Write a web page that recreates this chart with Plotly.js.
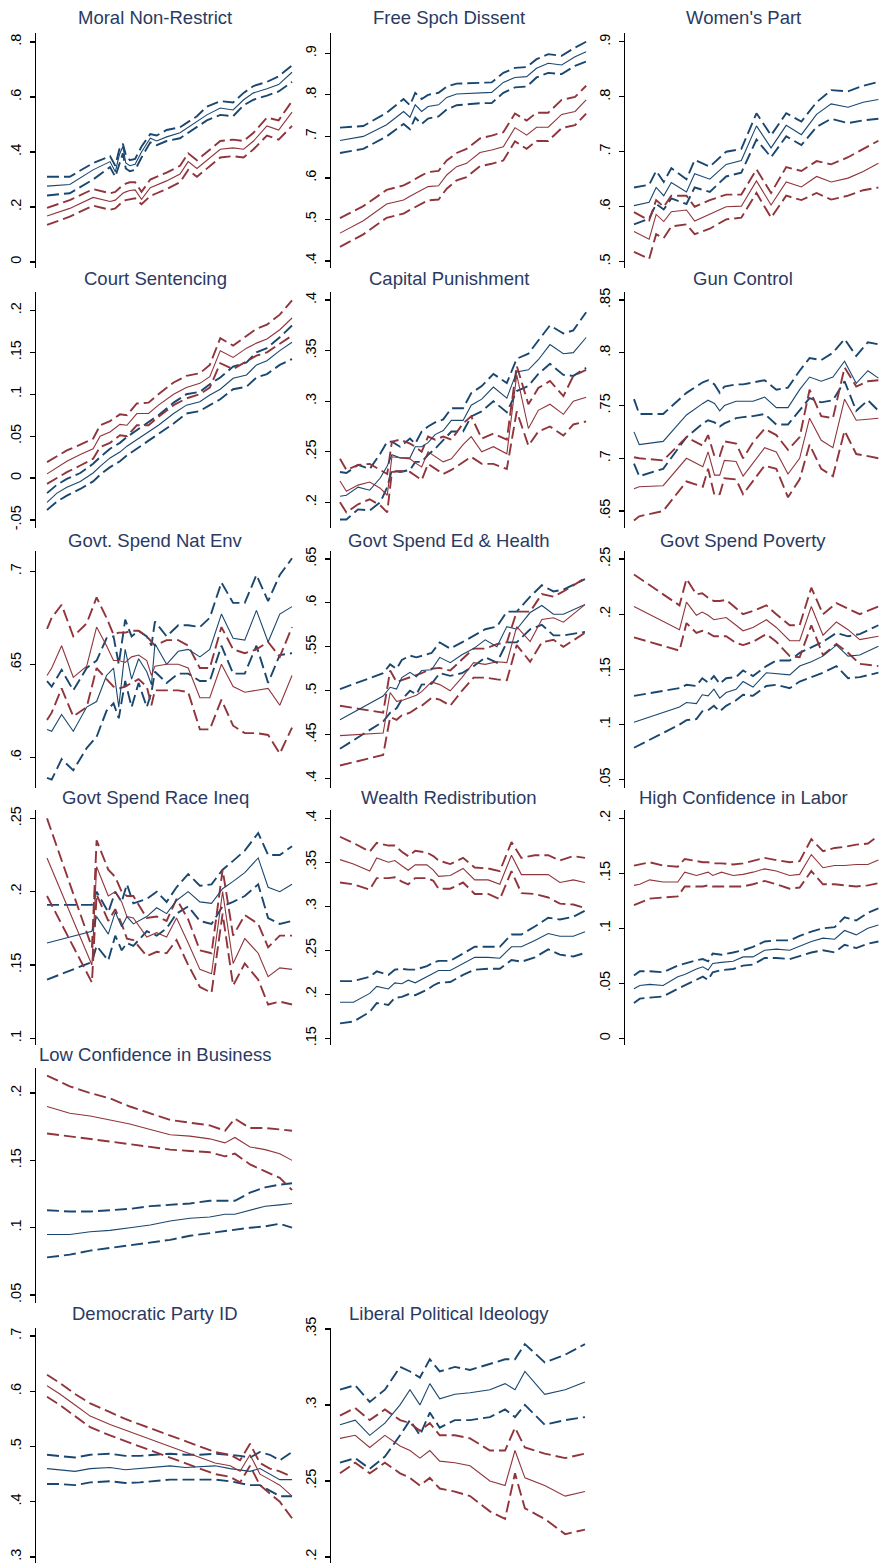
<!DOCTYPE html>
<html><head><meta charset="utf-8">
<script src="https://cdn.plot.ly/plotly-3.0.1.min.js"></script>
<style>html,body{margin:0;padding:0;background:#fff}#g{width:879px;height:1563px}</style>
</head><body><div id="g"></div>
<script>
// ---------- DATA ----------
const titles = ["Moral Non-Restrict","Free Spch Dissent","Women's Part","Court Sentencing","Capital Punishment","Gun Control","Govt. Spend Nat Env","Govt Spend Ed & Health","Govt Spend Poverty","Govt Spend Race Ineq","Wealth Redistribution","High Confidence in Labor","Low Confidence in Business","Democratic Party ID","Liberal Political Ideology"];

const p1_x=[1972,1975.9,1979.9,1982.8,1983.7,1984.4,1985.0,1985.5,1986.2,1987.1,1988.2,1989.7,1990.8,1992.5,1994.8,1996.2,1997.7,1999.4,2001.7,2003.9,2005.7,2007.4,2009.7,2011.7,2014];
const p1_bm=[.276,.282,.335,.365,.328,.39,.42,.36,.35,.355,.40,.45,.44,.455,.47,.49,.51,.535,.56,.553,.59,.615,.63,.645,.69];
const p1_bu=[.31,.31,.36,.385,.35,.41,.43,.39,.37,.375,.42,.465,.46,.48,.49,.51,.53,.565,.585,.58,.615,.64,.655,.675,.715];
const p1_bl=[.242,.25,.30,.345,.31,.36,.395,.34,.33,.335,.38,.435,.425,.44,.45,.47,.49,.515,.535,.53,.57,.59,.605,.62,.655];
const p1_rm=[.167,.195,.235,.22,.225,.24,.25,.255,.26,.262,.228,.27,.28,.295,.32,.365,.34,.37,.41,.415,.41,.44,.495,.48,.545];
const p1_ru=[.197,.225,.265,.25,.255,.27,.28,.285,.29,.29,.255,.30,.31,.325,.35,.395,.37,.40,.44,.445,.44,.47,.525,.515,.585];
const p1_rl=[.135,.165,.205,.19,.195,.21,.22,.225,.228,.232,.21,.24,.25,.265,.29,.335,.31,.34,.38,.385,.38,.41,.46,.445,.495];

const p2_x=[1972,1976,1980,1982.9,1984,1984.9,1986,1987.1,1988.9,1990.3,1992,1993.7,1996,1998,2000,2002,2004,2005.7,2007.7,2010,2012.3,2014.2];
const p2_bm=[.69,.70,.728,.76,.746,.776,.76,.772,.776,.794,.802,.803,.806,.806,.83,.842,.844,.864,.876,.872,.892,.904];
const p2_bu=[.721,.725,.757,.79,.775,.805,.79,.8,.805,.82,.827,.828,.83,.83,.853,.865,.867,.886,.898,.894,.914,.928];
const p2_bl=[.66,.67,.70,.73,.717,.745,.73,.743,.748,.765,.775,.777,.78,.78,.805,.818,.82,.842,.853,.85,.87,.88];
const p2_rm=[.467,.497,.537,.547,.556,.563,.571,.579,.581,.607,.627,.635,.661,.667,.675,.721,.703,.722,.722,.753,.76,.788];
const p2_ru=[.503,.532,.571,.582,.59,.598,.606,.614,.617,.642,.66,.67,.695,.702,.71,.755,.738,.757,.757,.788,.795,.822];
const p2_rl=[.434,.464,.504,.514,.523,.53,.538,.546,.548,.574,.594,.602,.628,.634,.642,.688,.67,.689,.689,.72,.727,.755];

const p3_x=[1972,1974.6,1975.8,1977.1,1978.4,1981,1982.4,1985,1987.8,1990.4,1993,1995.5,1998.1,2000.7,2003.3,2005.8,2008.7,2011.3,2013.9];
const p3_bm=[.602,.608,.635,.62,.644,.627,.66,.65,.677,.684,.747,.707,.748,.731,.768,.787,.781,.79,.795];
const p3_bu=[.635,.64,.665,.645,.67,.65,.685,.673,.70,.705,.77,.73,.77,.755,.79,.812,.81,.82,.827];
const p3_bl=[.568,.578,.605,.595,.615,.605,.635,.627,.655,.662,.722,.69,.728,.712,.745,.76,.752,.757,.76];
const p3_rm=[.555,.541,.586,.573,.591,.594,.574,.587,.60,.601,.647,.603,.645,.636,.655,.645,.652,.664,.679];
const p3_ru=[.59,.575,.612,.60,.62,.62,.60,.612,.622,.622,.668,.625,.672,.665,.683,.677,.69,.705,.72];
const p3_rl=[.518,.505,.55,.543,.564,.568,.55,.56,.577,.58,.625,.58,.62,.612,.625,.613,.62,.63,.635];

const p4_x=[1972,1973.7,1975.4,1977.7,1979.9,1981.1,1982.8,1984.5,1985.7,1987.4,1989.4,1991.1,1993.7,1995.9,1998.2,1999.9,2001.7,2003.9,2006.2,2007.9,2009.7,2011.9,2014];
const p4_bm=[-.029,-.018,-.011,-.004,.006,.014,.024,.031,.038,.046,.056,.063,.077,.087,.091,.099,.106,.119,.123,.135,.14,.152,.162];
const p4_bu=[-.018,-.008,-.001,.006,.017,.025,.035,.042,.049,.057,.067,.075,.09,.1,.103,.112,.12,.133,.138,.15,.155,.168,.182];
const p4_bl=[-.038,-.028,-.021,-.013,-.004,.004,.013,.02,.027,.035,.045,.052,.065,.077,.08,.087,.094,.106,.109,.12,.124,.135,.142];
const p4_rm=[.005,.012,.02,.028,.035,.05,.055,.064,.063,.077,.077,.087,.1,.108,.113,.121,.152,.144,.155,.161,.166,.177,.191];
const p4_ru=[.019,.026,.033,.04,.047,.063,.068,.076,.075,.089,.09,.1,.114,.122,.125,.135,.167,.158,.17,.178,.183,.195,.212];
const p4_rl=[-.007,0,.007,.015,.023,.037,.042,.051,.05,.063,.063,.073,.087,.095,.1,.108,.137,.13,.139,.146,.15,.16,.17];

const p5_x=[1972,1973.1,1975.1,1977.1,1978.9,1980.1,1980.9,1982.3,1984,1984.9,1986,1987.1,1988.3,1989.7,1991.1,1993.1,1994.5,1996.3,1998.3,2000.6,2002.3,2004.3,2006,2008,2010.3,2012,2014.2];
const p5_bm=[.206,.207,.215,.212,.224,.236,.247,.244,.244,.255,.255,.259,.267,.271,.281,.281,.296,.302,.314,.303,.329,.331,.341,.356,.347,.348,.363];
const p5_bu=[.23,.229,.237,.233,.248,.26,.26,.255,.263,.258,.27,.275,.279,.282,.293,.293,.308,.315,.327,.318,.342,.347,.36,.375,.367,.37,.388];
const p5_bl=[.183,.183,.193,.192,.2,.215,.232,.23,.232,.24,.24,.247,.253,.262,.27,.27,.285,.29,.3,.289,.31,.315,.327,.337,.326,.325,.333];
const p5_rm=[.221,.211,.217,.22,.214,.207,.245,.244,.243,.239,.235,.25,.245,.24,.243,.257,.265,.25,.255,.248,.326,.273,.291,.297,.287,.3,.304];
const p5_ru=[.243,.232,.237,.238,.232,.228,.26,.262,.258,.255,.25,.265,.262,.265,.262,.278,.285,.263,.268,.262,.335,.297,.313,.32,.305,.325,.331];
const p5_rl=[.2,.19,.198,.203,.197,.19,.23,.231,.23,.226,.222,.238,.233,.228,.232,.24,.245,.238,.238,.233,.29,.256,.27,.275,.266,.277,.28];

const p6_x=[1972,1972.9,1977,1981,1983.8,1984.7,1985.8,1986.7,1987.5,1989.5,1990.7,1992.4,1994.4,1996.4,1998.4,2000.4,2002.1,2004.1,2006.1,2008.1,2010.1,2012.1,2013.9];
const p6_bm=[.725,.713,.716,.741,.752,.755,.752,.745,.75,.754,.754,.754,.758,.748,.748,.765,.777,.773,.777,.792,.771,.783,.776];
const p6_bu=[.756,.742,.742,.762,.772,.774,.77,.762,.768,.77,.77,.772,.774,.765,.767,.783,.795,.793,.8,.813,.797,.81,.808];
const p6_bl=[.695,.683,.69,.72,.733,.736,.734,.73,.733,.738,.739,.74,.742,.732,.732,.745,.757,.753,.755,.773,.745,.755,.745];
const p6_rm=[.671,.673,.674,.7,.692,.706,.684,.684,.698,.697,.683,.695,.71,.706,.685,.70,.738,.717,.71,.756,.736,.737,.738];
const p6_ru=[.701,.70,.698,.72,.712,.722,.702,.702,.716,.714,.70,.715,.728,.722,.708,.72,.765,.74,.738,.786,.768,.773,.774];
const p6_rl=[.641,.645,.65,.678,.673,.69,.665,.666,.681,.68,.666,.678,.693,.69,.663,.68,.713,.69,.683,.726,.704,.702,.7];

const p7_x=[1972,1972.8,1974.5,1976.5,1978.8,1980.5,1982.2,1983.4,1984.3,1985.4,1986.5,1987.7,1989.1,1989.9,1990.5,1992.5,1994.5,1996.2,1998.2,1999.9,2001.9,2003.9,2005.9,2007.9,2009.9,2011.9,2014];
const p7_bm=[.615,.614,.623,.614,.627,.63,.644,.648,.627,.658,.642,.653,.646,.639,.661,.65,.657,.658,.654,.658,.677,.664,.663,.679,.662,.677,.681];
const p7_bu=[.641,.638,.647,.636,.648,.652,.664,.665,.65,.674,.665,.668,.665,.66,.673,.665,.671,.671,.67,.675,.694,.683,.683,.698,.684,.698,.707];
const p7_bl=[.589,.588,.599,.593,.605,.611,.625,.629,.621,.641,.627,.64,.627,.635,.646,.64,.645,.645,.641,.641,.66,.645,.645,.66,.64,.655,.656];
const p7_rm=[.644,.648,.66,.643,.649,.67,.66,.652,.652,.651,.654,.655,.652,.644,.649,.65,.65,.648,.632,.632,.65,.638,.635,.636,.637,.628,.644];
const p7_ru=[.669,.675,.682,.665,.672,.686,.675,.666,.667,.667,.668,.668,.665,.662,.66,.663,.663,.66,.648,.648,.67,.658,.656,.658,.662,.654,.67];
const p7_rl=[.62,.624,.637,.622,.627,.648,.642,.638,.637,.638,.64,.642,.638,.628,.636,.636,.636,.635,.615,.615,.631,.617,.613,.613,.612,.602,.616];

const p8_x=[1972,1979.4,1980.6,1981.7,1982.6,1984,1985.1,1986,1987.7,1989.1,1990.9,1992.9,1994.9,1996.9,1998.9,2000.6,2002.3,2004.6,2006.6,2008.6,2010.3,2014];
const p8_bm=[.467,.494,.504,.502,.515,.521,.516,.523,.524,.538,.532,.541,.548,.558,.55,.573,.57,.589,.597,.587,.587,.598];
const p8_bu=[.502,.52,.53,.525,.535,.54,.538,.54,.543,.555,.548,.555,.563,.57,.573,.59,.59,.607,.62,.613,.615,.627];
const p8_bl=[.434,.465,.475,.48,.49,.5,.496,.507,.508,.52,.517,.52,.528,.538,.532,.555,.555,.57,.575,.563,.563,.567];
const p8_rm=[.449,.452,.498,.488,.489,.492,.495,.499,.51,.507,.5,.515,.532,.53,.533,.532,.573,.556,.581,.583,.578,.598];
const p8_ru=[.483,.475,.523,.51,.512,.515,.518,.52,.525,.526,.523,.535,.548,.548,.553,.555,.59,.59,.61,.607,.613,.628];
const p8_rl=[.415,.427,.47,.467,.472,.475,.48,.483,.492,.49,.483,.5,.515,.515,.513,.512,.552,.533,.555,.558,.55,.566];

const p9_x=[1972,1979.8,1981,1982.7,1983.7,1984.7,1985.7,1986.7,1987.8,1989.5,1990.7,1992.4,1994.7,1996.4,1998.7,2000.4,2002.4,2004.4,2006.7,2008.7,2010.7,2013.9];
const p9_bm=[.102,.116,.12,.119,.127,.126,.132,.124,.129,.132,.139,.134,.147,.146,.145,.153,.157,.162,.172,.162,.163,.171];
const p9_bu=[.126,.133,.136,.135,.142,.138,.144,.137,.142,.143,.149,.144,.153,.158,.158,.165,.17,.175,.183,.18,.182,.19];
const p9_bl=[.079,.1,.104,.105,.112,.113,.117,.112,.117,.122,.127,.126,.135,.136,.133,.139,.143,.147,.153,.142,.143,.147];
const p9_rm=[.207,.186,.211,.199,.202,.199,.195,.196,.197,.19,.185,.188,.195,.188,.176,.176,.207,.181,.193,.186,.177,.18];
const p9_ru=[.236,.208,.232,.218,.219,.215,.212,.212,.213,.205,.2,.203,.208,.2,.19,.19,.224,.2,.21,.205,.2,.207];
const p9_rl=[.179,.167,.192,.183,.185,.183,.18,.18,.18,.174,.172,.175,.182,.175,.162,.161,.19,.163,.173,.165,.155,.153];

const p10_x=[1972,1979.7,1980.5,1982.5,1983.7,1984.8,1985.7,1986.8,1989.1,1990.8,1992.5,1994.2,1996.2,1998.2,2000.2,2002.1,2003.9,2005.9,2008.2,2009.9,2011.9,2014];
const p10_bm=[.165,.173,.183,.171,.186,.176,.183,.178,.183,.189,.185,.194,.2,.193,.192,.202,.207,.213,.223,.203,.2,.205];
const p10_bu=[.191,.191,.2,.186,.2,.193,.205,.192,.195,.2,.193,.203,.212,.204,.205,.215,.221,.228,.24,.225,.225,.231];
const p10_bl=[.14,.152,.163,.153,.17,.16,.165,.163,.173,.17,.175,.185,.19,.18,.178,.19,.193,.197,.205,.182,.178,.18];
const p10_rm=[.223,.15,.217,.197,.2,.193,.183,.182,.169,.172,.169,.182,.165,.147,.144,.2,.151,.168,.158,.142,.148,.147];
const p10_ru=[.25,.162,.235,.215,.21,.2,.197,.197,.182,.183,.18,.195,.181,.16,.158,.215,.17,.184,.178,.162,.17,.17];
const p10_rl=[.197,.138,.198,.18,.188,.178,.168,.167,.156,.159,.158,.167,.15,.135,.131,.185,.136,.151,.14,.123,.125,.123];

const p11_x=[1972,1974.3,1977.1,1978.3,1980.3,1981.4,1982.6,1983.7,1984.9,1986.9,1988,1988.9,1990.9,1993.1,1995.1,1997.4,1999.4,2001.4,2003.1,2005.4,2007.7,2009.7,2012,2014];
const p11_bm=[.191,.191,.201,.209,.206,.213,.212,.216,.213,.22,.224,.227,.227,.235,.242,.242,.241,.254,.254,.261,.269,.266,.266,.271];
const p11_bu=[.215,.215,.22,.226,.222,.228,.229,.228,.228,.232,.236,.238,.238,.246,.254,.254,.254,.268,.268,.277,.287,.285,.288,.295];
const p11_bl=[.167,.169,.18,.19,.188,.196,.197,.2,.199,.205,.21,.213,.214,.222,.228,.229,.229,.239,.237,.242,.251,.245,.243,.247];
const p11_rm=[.353,.348,.34,.355,.35,.352,.346,.341,.347,.347,.341,.334,.335,.343,.33,.33,.325,.358,.336,.336,.336,.327,.33,.327];
const p11_ru=[.379,.372,.362,.372,.369,.369,.362,.357,.363,.361,.357,.352,.348,.355,.344,.343,.34,.373,.355,.358,.358,.352,.357,.355];
const p11_rl=[.327,.325,.319,.332,.332,.333,.328,.325,.332,.332,.329,.32,.32,.327,.314,.314,.308,.34,.315,.314,.31,.303,.302,.298];

const p12_x=[1972,1973,1974.7,1977,1979.5,1980.7,1982.7,1983.8,1984.7,1985.5,1987,1989,1990.7,1992.4,1994.4,1996.4,1998.7,2000.4,2002.4,2004.4,2006.4,2008.1,2010.1,2012.1,2013.9];
const p12_bm=[.045,.048,.049,.048,.056,.058,.063,.065,.062,.068,.069,.07,.074,.074,.08,.081,.08,.084,.088,.091,.09,.098,.094,.1,.103];
const p12_bu=[.057,.061,.061,.06,.066,.068,.071,.072,.07,.077,.076,.078,.08,.083,.088,.089,.089,.093,.097,.1,.101,.11,.107,.114,.118];
const p12_bl=[.032,.036,.037,.038,.045,.048,.053,.056,.053,.06,.062,.063,.066,.067,.073,.073,.072,.075,.078,.08,.078,.085,.082,.086,.088];
const p12_rm=[.139,.14,.144,.142,.142,.151,.148,.15,.151,.148,.151,.148,.149,.151,.154,.152,.148,.149,.167,.155,.157,.157,.158,.158,.162];
const p12_ru=[.157,.158,.16,.157,.156,.163,.161,.16,.16,.159,.159,.158,.159,.161,.164,.162,.16,.161,.181,.17,.173,.174,.176,.177,.184];
const p12_rl=[.121,.123,.127,.128,.129,.138,.138,.138,.139,.138,.138,.138,.138,.14,.143,.14,.136,.137,.152,.14,.14,.139,.138,.139,.141];

const p13_x=[1972,1975.9,1979.4,1982.8,1986.2,1989.7,1993.1,1996.5,1999.9,2002.5,2004.2,2006.8,2009.4,2011.9,2014];
const p13_bm=[.095,.095,.097,.098,.1,.102,.105,.107,.108,.11,.11,.113,.116,.117,.118];
const p13_bu=[.113,.112,.112,.113,.114,.116,.117,.118,.12,.12,.12,.126,.13,.132,.133];
const p13_bl=[.078,.08,.083,.085,.087,.089,.091,.094,.096,.097,.098,.1,.101,.103,.1];
const p13_rm=[.19,.185,.183,.18,.177,.173,.169,.168,.166,.163,.167,.16,.158,.155,.15];
const p13_ru=[.213,.205,.2,.196,.19,.185,.18,.178,.176,.172,.181,.174,.174,.173,.172];
const p13_rl=[.17,.168,.166,.164,.162,.16,.158,.157,.156,.153,.155,.147,.142,.137,.128];

const p14_x=[1972,1974.2,1976.8,1979.4,1982.8,1985.4,1987.9,1990.5,1993.1,1995.7,1998.2,2000.8,2003.4,2005.1,2006.8,2008.5,2010.2,2011.9,2014];
const p14_bm=[.46,.458,.455,.46,.462,.458,.46,.462,.465,.462,.463,.465,.46,.458,.455,.46,.45,.44,.44];
const p14_bu=[.485,.483,.48,.485,.487,.483,.483,.485,.487,.485,.485,.487,.485,.483,.48,.49,.485,.475,.49];
const p14_bl=[.432,.432,.43,.435,.437,.434,.435,.438,.44,.44,.44,.44,.437,.433,.43,.43,.42,.41,.41];
const p14_rm=[.61,.595,.575,.555,.54,.53,.52,.51,.5,.49,.48,.47,.465,.455,.485,.45,.44,.43,.41];
const p14_ru=[.63,.615,.595,.578,.562,.55,.54,.53,.52,.51,.5,.49,.485,.475,.505,.47,.46,.455,.445];
const p14_rl=[.59,.575,.555,.535,.52,.51,.5,.49,.48,.47,.46,.45,.445,.435,.465,.43,.415,.4,.37];

const p15_x=[1972,1974.6,1977.1,1979.7,1982.3,1984,1985.7,1987.4,1989.1,1991.7,1994.3,1997.7,2000.3,2002,2003.7,2007.1,2010.6,2014];
const p15_bm=[.287,.29,.28,.288,.3,.31,.3,.314,.304,.307,.308,.31,.314,.31,.322,.307,.31,.315];
const p15_bu=[.31,.313,.302,.31,.325,.322,.318,.33,.322,.325,.323,.327,.33,.33,.34,.328,.333,.34];
const p15_bl=[.262,.265,.258,.266,.28,.29,.28,.295,.285,.29,.29,.292,.297,.292,.3,.287,.29,.292];
const p15_rm=[.278,.28,.272,.28,.273,.27,.265,.27,.263,.262,.26,.25,.247,.27,.252,.247,.24,.243];
const p15_ru=[.293,.298,.29,.297,.29,.288,.283,.288,.28,.28,.278,.27,.27,.285,.272,.268,.265,.268];
const p15_rl=[.255,.262,.255,.262,.255,.252,.247,.252,.245,.243,.24,.23,.225,.255,.232,.225,.215,.218];

// tick values and labels
const t1_v=[0,.2,.4,.6,.8], t1_t=["0",".2",".4",".6",".8"];
const t2_v=[.4,.5,.6,.7,.8,.9], t2_t=[".4",".5",".6",".7",".8",".9"];
const t3_v=[.5,.6,.7,.8,.9], t3_t=[".5",".6",".7",".8",".9"];
const t4_v=[-.05,0,.05,.1,.15,.2], t4_t=["-.05","0",".05",".1",".15",".2"];
const t5_v=[.2,.25,.3,.35,.4], t5_t=[".2",".25",".3",".35",".4"];
const t6_v=[.65,.7,.75,.8,.85], t6_t=[".65",".7",".75",".8",".85"];
const t7_v=[.6,.65,.7], t7_t=[".6",".65",".7"];
const t8_v=[.4,.45,.5,.55,.6,.65], t8_t=[".4",".45",".5",".55",".6",".65"];
const t9_v=[.05,.1,.15,.2,.25], t9_t=[".05",".1",".15",".2",".25"];
const t10_v=[.1,.15,.2,.25], t10_t=[".1",".15",".2",".25"];
const t11_v=[.15,.2,.25,.3,.35,.4], t11_t=[".15",".2",".25",".3",".35",".4"];
const t12_v=[0,.05,.1,.15,.2], t12_t=["0",".05",".1",".15",".2"];
const t13_v=[.05,.1,.15,.2], t13_t=[".05",".1",".15",".2"];
const t14_v=[.3,.4,.5,.6,.7], t14_t=[".3",".4",".5",".6",".7"];
const t15_v=[.2,.25,.3,.35], t15_t=[".2",".25",".3",".35"];

// ---------- LAYOUT / DRAW ----------
const W=879,H=1563;
const BLUE="#1a476f", RED="#90353b";
const panels=[
 {d:[p1_x,p1_bm,p1_bu,p1_bl,p1_rm,p1_ru,p1_rl],t:[t1_v,t1_t],col:0,row:0,yr:[-.0218,.8327]},
 {d:[p2_x,p2_bm,p2_bu,p2_bl,p2_rm,p2_ru,p2_rl],t:[t2_v,t2_t],col:1,row:0,yr:[.383,.949]},
 {d:[p3_x,p3_bm,p3_bu,p3_bl,p3_rm,p3_ru,p3_rl],t:[t3_v,t3_t],col:2,row:0,yr:[.4885,.916]},
 {d:[p4_x,p4_bm,p4_bu,p4_bl,p4_rm,p4_ru,p4_rl],t:[t4_v,t4_t],col:0,row:1,yr:[-.0596,.222]},
 {d:[p5_x,p5_bm,p5_bu,p5_bl,p5_rm,p5_ru,p5_rl],t:[t5_v,t5_t],col:1,row:1,yr:[.1746,.408]},
 {d:[p6_x,p6_bm,p6_bu,p6_bl,p6_rm,p6_ru,p6_rl],t:[t6_v,t6_t],col:2,row:1,yr:[.6339,.8576]},
 {d:[p7_x,p7_bm,p7_bu,p7_bl,p7_rm,p7_ru,p7_rl],t:[t7_v,t7_t],col:0,row:2,yr:[.5835,.7109]},
 {d:[p8_x,p8_bm,p8_bu,p8_bl,p8_rm,p8_ru,p8_rl],t:[t8_v,t8_t],col:1,row:2,yr:[.3894,.659]},
 {d:[p9_x,p9_bm,p9_bu,p9_bl,p9_rm,p9_ru,p9_rl],t:[t9_v,t9_t],col:2,row:2,yr:[.0425,.2573]},
 {d:[p10_x,p10_bm,p10_bu,p10_bl,p10_rm,p10_ru,p10_rl],t:[t10_v,t10_t],col:0,row:3,yr:[.0954,.2557]},
 {d:[p11_x,p11_bm,p11_bu,p11_bl,p11_rm,p11_ru,p11_rl],t:[t11_v,t11_t],col:1,row:3,yr:[.1424,.4094]},
 {d:[p12_x,p12_bm,p12_bu,p12_bl,p12_rm,p12_ru,p12_rl],t:[t12_v,t12_t],col:2,row:3,yr:[-.0061,.2075]},
 {d:[p13_x,p13_bm,p13_bu,p13_bl,p13_rm,p13_ru,p13_rl],t:[t13_v,t13_t],col:0,row:4,yr:[.0441,.2186]},
 {d:[p14_x,p14_bm,p14_bu,p14_bl,p14_rm,p14_ru,p14_rl],t:[t14_v,t14_t],col:0,row:5,yr:[.2891,.7145]},
 {d:[p15_x,p15_bm,p15_bu,p15_bl,p15_rm,p15_ru,p15_rl],t:[t15_v,t15_t],col:1,row:5,yr:[.196,.3506]}
];
const colL=[36,331,625], colR=[295,590,879], colX0=[1970.11,1970.46,1970.46];
const pxPerYr=245/42;
const rowTB=[[33,268],[292,528],[551,788],[810,1045],[1068,1303],[1328,1563]];
const titleY=[18,279,540,797,1054,1313];
const titleX=[155,449,743];

const traces=[]; const layout={width:W,height:H,margin:{l:0,r:0,t:0,b:0},showlegend:false,
  paper_bgcolor:"#fff",plot_bgcolor:"#fff",annotations:[]};
const FONT="Liberation Sans, Arial, sans-serif";
panels.forEach((p,i)=>{
  const n=i+1, xa="x"+(n===1?"":n), ya="y"+(n===1?"":n);
  const L=colL[p.col], R=colR[p.col], T=rowTB[p.row][0], B=rowTB[p.row][1];
  layout["xaxis"+(n===1?"":n)]={domain:[L/W,R/W],range:[colX0[p.col],colX0[p.col]+(R-L)/pxPerYr],
    visible:false,fixedrange:true,anchor:ya};
  layout["yaxis"+(n===1?"":n)]={domain:[1-B/H,1-T/H],range:p.yr,anchor:xa,
    showgrid:false,zeroline:false,showline:true,linecolor:"#000",linewidth:1.5,
    ticks:"outside",ticklen:5,tickwidth:1.2,tickcolor:"#000",
    tickvals:p.t[0],ticktext:p.t[1],tickangle:-90,ticklabelstandoff:3,
    tickfont:{family:FONT,size:14.5,color:"#000"}};
  const [x,bm,bu,bl,rm,ru,rl]=p.d;
  const add=(y,c,isDash)=>traces.push({x:x,y:y,xaxis:xa,yaxis:ya,type:"scatter",mode:"lines",hoverinfo:"skip",
    line:isDash?{color:c,width:1.9,dash:"12px,5px"}:{color:c,width:1.1}});
  add(bu,BLUE,true); add(bl,BLUE,true); add(ru,RED,true); add(rl,RED,true);
  add(bm,BLUE,false); add(rm,RED,false);
  layout.annotations.push({text:titles[i],xref:"paper",yref:"paper",x:titleX[p.col]/W,y:1-titleY[p.row]/H,
    xanchor:"center",yanchor:"middle",showarrow:false,font:{family:FONT,size:18.5,color:"#2a3a62"}});
});
Plotly.newPlot("g",traces,layout,{staticPlot:true});
</script></body></html>
